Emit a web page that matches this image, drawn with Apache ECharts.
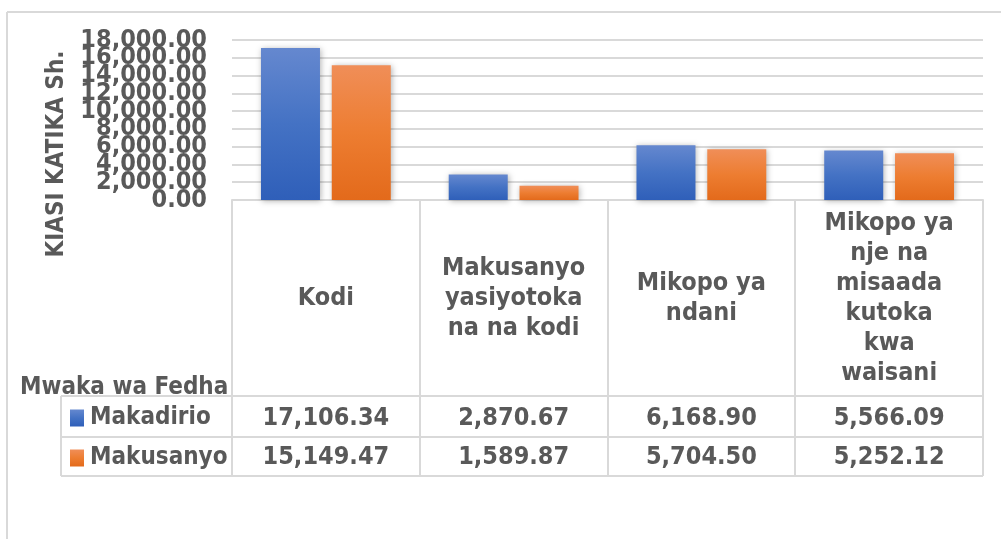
<!DOCTYPE html>
<html>
<head>
<meta charset="utf-8">
<title>Makadirio na Makusanyo</title>
<script src="https://cdn.jsdelivr.net/npm/echarts@6/dist/echarts.min.js"></script>
<style>
  html, body { margin: 0; padding: 0; background: #fff; }
  #chart { width: 1001px; height: 539px; }
</style>
</head>
<body>
<div id="chart"></div>
<script>
  /******************/
  //region    //data

  let categories = ['Kodi', 'Makusanyo yasiyotoka na na kodi', 'Mikopo ya ndani', 'Mikopo ya nje na misaada kutoka kwa waisani'];
  let seriesNames = ['Makadirio', 'Makusanyo'];
  let makadirio = [17106.34, 2870.67, 6168.90, 5566.09];
  let makusanyo = [15149.47, 1589.87, 5704.50, 5252.12];
  let yTicks = [0, 2000, 4000, 6000, 8000, 10000, 12000, 14000, 16000, 18000];
  let yTitle = 'KIASI KATIKA Sh.';
  let tableCorner = 'Mwaka wa Fedha';

  //endregion

  /******************/
  //region    //initialize

  let FONT = '"DejaVu Sans Condensed", "DejaVu Sans", sans-serif';
  let TXT = '#595959';
  let LINE = '#D9D9D9';
  let plot = {left: 232, right: 983, top: 40, bottom: 200};
  let rows = {header: 396, r1: 437, r2: 476, legendLeft: 61};
  let step = yTicks[1] - yTicks[0];

  let chart = echarts.init(document.getElementById('chart'));
  let measureCtx = document.createElement('canvas').getContext('2d');

  //endregion

  /******************/
  //region    //function

  function fmt(v) {
    return v.toLocaleString('en-US', {minimumFractionDigits: 2, maximumFractionDigits: 2});
  }

  /**
   * wrap header text word by word, like the cells of the data table
   */
  function wrap(text, maxPx) {
    measureCtx.font = 'bold 25px ' + FONT;
    let lines = [];
    let cur = '';
    text.split(' ').forEach(w => {
      let next = cur ? cur + ' ' + w : w;
      if (cur && measureCtx.measureText(next).width > maxPx) {
        lines.push(cur);
        cur = w;
      } else {
        cur = next;
      }
    });
    if (cur) lines.push(cur);
    return lines.join('\n');
  }

  function grad(top, mid, bottom) {
    return {
      type: 'linear', x: 0, y: 0, x2: 0, y2: 1,
      colorStops: [{offset: 0, color: top}, {offset: 0.5, color: mid}, {offset: 1, color: bottom}]
    };
  }

  function tableAxis(margin, formatter, opts) {
    return Object.assign({
      type: 'category',
      data: categories,
      gridIndex: 0,
      position: 'bottom',
      axisLine: {show: false},
      axisTick: {show: false},
      splitLine: {show: false},
      axisLabel: {
        interval: 0,
        margin: margin,
        verticalAlign: 'middle',
        color: TXT,
        fontFamily: FONT,
        fontWeight: 'bold',
        fontSize: 25,
        lineHeight: 30,
        formatter: formatter
      }
    }, opts || {});
  }

  // two overlaid value axes so that the crowded tick labels all stay visible
  function valueAxis(parity, showGrid) {
    return {
      type: 'value',
      min: yTicks[0],
      max: yTicks[yTicks.length - 1],
      interval: step,
      position: 'left',
      axisLine: {show: false},
      axisTick: {show: false},
      axisLabel: {
        margin: 25, color: TXT, fontFamily: FONT, fontWeight: 'bold', fontSize: 25,
        showMinLabel: true, showMaxLabel: true,
        formatter: v => (Math.round(v / step) % 2 === parity ? fmt(v) : '')
      },
      splitLine: {show: showGrid, lineStyle: {color: LINE, width: 2}}
    };
  }

  function tableLines() {
    let els = [];
    let colW = (plot.right - plot.left) / categories.length;
    let line = (x1, y1, x2, y2) => ({
      type: 'line', silent: true,
      shape: {x1, y1, x2, y2},
      style: {stroke: LINE, lineWidth: 2}
    });
    // outer chart frame
    els.push(line(7, 12, 1001, 12));
    els.push(line(7, 12, 7, 539));
    // column separators
    for (let i = 0; i <= categories.length; i++) {
      let x = Math.round(plot.left + colW * i);
      els.push(line(x, plot.bottom, x, rows.r2));
    }
    // row separators
    [rows.header, rows.r1, rows.r2].forEach(y => els.push(line(rows.legendLeft, y, plot.right, y)));
    els.push(line(rows.legendLeft, rows.header, rows.legendLeft, rows.r2));
    // titles
    els.push({
      type: 'text', silent: true,
      x: 57, y: 154, rotation: Math.PI / 2,
      style: {text: yTitle, fill: TXT, font: 'bold 24px ' + FONT, align: 'center', verticalAlign: 'middle'}
    });
    els.push({
      type: 'text', silent: true,
      x: 20, y: 400,
      style: {text: tableCorner, fill: TXT, font: 'bold 24px ' + FONT, align: 'left', verticalAlign: 'bottom'}
    });
    return els;
  }

  function deployEchart() {
    let shadow = {shadowBlur: 6, shadowColor: 'rgba(0,0,0,0.3)', shadowOffsetX: 1, shadowOffsetY: 1};
    let option = {
      backgroundColor: '#fff',
      animation: false,
      grid: {
        left: plot.left, right: 1001 - plot.right, top: plot.top, bottom: 539 - plot.bottom,
        containLabel: false
      },
      legend: {
        orient: 'vertical',
        left: 70, top: 405,
        padding: 0,
        itemWidth: 14, itemHeight: 17,
        itemGap: 14,
        icon: 'rect',
        data: seriesNames,
        textStyle: {color: TXT, fontFamily: FONT, fontWeight: 'bold', fontSize: 24, lineHeight: 26, padding: [0, 0, 0, 1]}
      },
      xAxis: [
        tableAxis(98, v => wrap(v, 140), {
          axisLine: {show: true, lineStyle: {color: LINE, width: 2}}
        }),
        tableAxis(218, (v, i) => fmt(makadirio[i])),
        tableAxis(257, (v, i) => fmt(makusanyo[i]))
      ],
      yAxis: [valueAxis(0, true), valueAxis(1, false)],
      series: [
        {
          name: seriesNames[0], type: 'bar', xAxisIndex: 0, yAxisIndex: 0,
          barWidth: 59, barGap: '20%',
          data: makadirio,
          itemStyle: Object.assign({color: grad('#6588CF', '#4472C4', '#2F5FB9')}, shadow)
        },
        {
          name: seriesNames[1], type: 'bar', xAxisIndex: 0, yAxisIndex: 0,
          barWidth: 59, barGap: '20%',
          data: makusanyo,
          itemStyle: Object.assign({color: grad('#F08E58', '#ED7D31', '#E36A1B')}, shadow)
        }
      ],
      graphic: tableLines()
    };

    chart.setOption(option);
  }

  deployEchart();

  //endregion
</script>
</body>
</html>
